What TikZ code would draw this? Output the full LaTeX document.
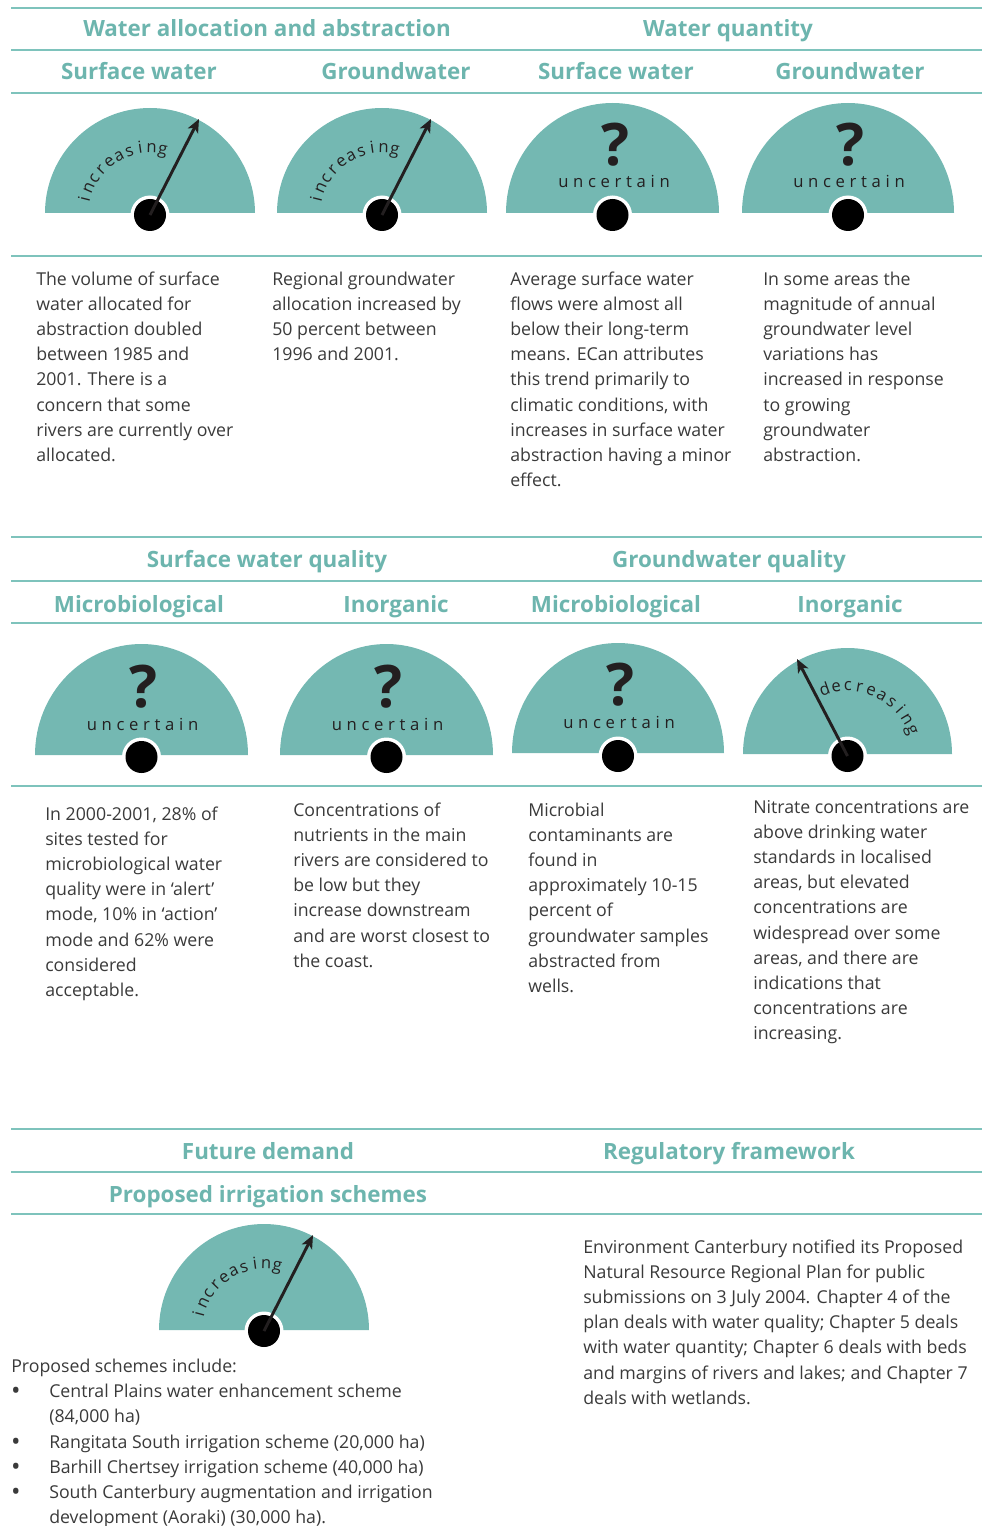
\documentclass[tikz,border=0pt]{standalone}
\usepackage{fontspec}
\setmainfont{Open Sans}
\newfontfamily\dialfont{Open Sans}[LetterSpace=28]
\usetikzlibrary{arrows.meta,positioning}

\definecolor{ecteal}{HTML}{6DB5AE}
\definecolor{ecrule}{HTML}{7EC3BC}
\definecolor{ecdial}{HTML}{74B8B2}
\definecolor{ecgrey}{HTML}{3A3A3A}
\definecolor{ecink}{HTML}{231F20}

\tikzset{
  rule/.style={draw=ecrule, line width=1.1pt},
  head/.style={font=\bfseries\fontsize{16.8}{19}\selectfont, text=ecteal, anchor=base, inner sep=0pt},
  body/.style={font=\fontsize{13.3}{18.9}\selectfont, text=ecgrey, align=left, anchor=base west, inner sep=0pt},
  dot/.style={font=\fontsize{19}{19}\selectfont, text=ecgrey, anchor=base, inner sep=0pt},
  dial/.style={fill=ecdial},
  hub/.style={circle, fill=black, minimum size=24pt, inner sep=0pt},
  needle/.style={draw=ecink, line width=2.2pt, -{Stealth[length=10pt,width=8.5pt,inset=2.5pt]}},
  query/.style={font=\bfseries\fontsize{44}{44}\selectfont, text=ecink, anchor=base, inner sep=0pt},
  dialword/.style={font=\dialfont\fontsize{12.5}{12.5}\selectfont, text=ecink, anchor=base, inner sep=0pt},
  arcletter/.style={font=\fontsize{12.5}{12.5}\selectfont, text=ecink, anchor=base, inner sep=0pt}
}

% dial: name, centre x, base y, x radius, y radius, hub y
\newcommand\drawdial[6]{%
  \fill[dial] (#2-#4,#3) arc[start angle=180,end angle=0,x radius=#4,y radius=#5] -- cycle;
  \fill[white] (#2,#6) circle[radius=19.5];
  \node[hub] (#1) at (#2,#6) {};
}
% letters round a hub: hub, first angle, step, radius, letters
\newcommand\arcword[5]{%
  \foreach \ch [count=\k] in {#5} {
    \pgfmathsetmacro\ang{#2-(\k-1)*#3}
    \node[arcletter, rotate=\ang-90] (#1-l\k) at ([shift={(\ang:#4)}]#1) {\ch};
  }
}

\begin{document}
\begin{tikzpicture}[x=0.75pt,y=0.75pt]
\useasboundingbox (0,0) rectangle (982,-1526);

% water allocation / quantity
\foreach \y in {8,50,93,256} \draw[rule] (11,-\y) -- (982,-\y);
\node[head] (alloc) at (267,-37) {Water allocation and abstraction};
\node[head] (quant) at (728,-37) {Water quantity};
\node[head] (allocsw) at (139,-80) {Surface water};
\node[head] (allocgw) at (396,-80) {Groundwater};
\node[head] (quantsw) at (616,-80) {Surface water};
\node[head] (quantgw) at (850,-80) {Groundwater};

\drawdial{g1}{150}{-213}{105}{105}{-215}
\arcword{g1}{166}{9.67}{62}{i,n,c,r,e,a,s,i,n,g}
\coordinate (g1tip) at (199,-119);
\draw[needle] (g1.center) -- (g1tip);

\drawdial{g2}{382}{-213}{105}{105}{-215}
\arcword{g2}{166}{9.67}{62}{i,n,c,r,e,a,s,i,n,g}
\coordinate (g2tip) at (431,-119);
\draw[needle] (g2.center) -- (g2tip);

\drawdial{g3}{612.5}{-213}{106.5}{110}{-215}
\node[query] (g3q) at (615,-166) {?};
\node[dialword] (g3w) at (614,-188) {uncertain};

\drawdial{g4}{848}{-213}{106}{110}{-215}
\node[query] (g4q) at (850,-166) {?};
\node[dialword] (g4w) at (849,-188) {uncertain};

% text blocks sit on their last baseline
\node[body] (t1) at (36,-461.4) {The volume of surface\\water allocated for\\abstraction doubled\\between 1985 and\\2001. There is a\\concern that some\\rivers are currently over\\allocated.};
\node[body] (t2) at (272,-360.6) {Regional groundwater\\allocation increased by\\50 percent between\\1996 and 2001.};
\node[body] (t3) at (510,-486.6) {Average surface water\\flows were almost all\\below their long-term\\means. ECan attributes\\this trend primarily to\\climatic conditions, with\\increases in surface water\\abstraction having a minor\\effect.};
\node[body] (t4) at (763,-461.4) {In some areas the\\magnitude of annual\\groundwater level\\variations has\\increased in response\\to growing\\groundwater\\abstraction.};

% water quality
\foreach \y in {537,581,623,786} \draw[rule] (11,-\y) -- (982,-\y);
\node[head] (swq) at (267,-567) {Surface water quality};
\node[head] (gwq) at (729,-567) {Groundwater quality};
\node[head] (swmic) at (139,-612) {Microbiological};
\node[head] (swinorg) at (396,-612) {Inorganic};
\node[head] (gwmic) at (616,-612) {Microbiological};
\node[head] (gwinorg) at (850,-612) {Inorganic};

\drawdial{g5}{141.5}{-755}{106.5}{111}{-757}
\node[query] (g5q) at (143,-707) {?};
\node[dialword] (g5w) at (142.5,-730) {uncertain};

\drawdial{g6}{386.5}{-755}{106.5}{111}{-757}
\node[query] (g6q) at (388,-707) {?};
\node[dialword] (g6w) at (387.5,-730) {uncertain};

\drawdial{g7}{618}{-753}{106}{110}{-756}
\node[query] (g7q) at (620,-705) {?};
\node[dialword] (g7w) at (619,-728) {uncertain};

\drawdial{g8}{847.5}{-754}{104.5}{106}{-756}
\arcword{g8}{109}{9.67}{65}{d,e,c,r,e,a,s,i,n,g}
\coordinate (g8tip) at (797,-659);
\draw[needle] (g8.center) -- (g8tip);

\node[body] (t5) at (45,-996.4) {In 2000-2001, 28\% of\\sites tested for\\microbiological water\\quality were in ‘alert’\\mode, 10\% in ‘action’\\mode and 62\% were\\considered\\acceptable.};
\node[body] (t6) at (293,-967.2) {Concentrations of\\nutrients in the main\\rivers are considered to\\be low but they\\increase downstream\\and are worst closest to\\the coast.};
\node[body] (t7) at (528,-992.4) {Microbial\\contaminants are\\found in\\approximately 10-15\\percent of\\groundwater samples\\abstracted from\\wells.};
\node[body] (t8) at (753,-1039.8) {Nitrate concentrations are\\above drinking water\\standards in localised\\areas, but elevated\\concentrations are\\widespread over some\\areas, and there are\\indications that\\concentrations are\\increasing.};

% future demand / regulation
\foreach \y in {1129,1172,1214} \draw[rule] (11,-\y) -- (982,-\y);
\node[head] (future) at (268,-1159) {Future demand};
\node[head] (regul) at (729,-1159) {Regulatory framework};
\node[head] (irrig) at (268,-1202) {Proposed irrigation schemes};

\drawdial{g9}{264}{-1330}{105}{106}{-1331}
\arcword{g9}{165}{9.6}{62}{i,n,c,r,e,a,s,i,n,g}
\coordinate (g9tip) at (313,-1235);
\draw[needle] (g9.center) -- (g9tip);

\node[body] (lead) at (11,-1372) {Proposed schemes include:};
\node[dot] (b1) at (16,-1399) {•};
\node[dot] (b2) at (16,-1450) {•};
\node[dot] (b3) at (16,-1475) {•};
\node[dot] (b4) at (16,-1500) {•};
\node[body] (s1) at (49,-1422.2) {Central Plains water enhancement scheme\\(84,000 ha)};
\node[body] (s2) at (49,-1448) {Rangitata South irrigation scheme (20,000 ha)};
\node[body] (s3) at (49,-1473) {Barhill Chertsey irrigation scheme (40,000 ha)};
\node[body] (s4) at (49,-1523.2) {South Canterbury augmentation and irrigation\\development (Aoraki) (30,000 ha).};

\node[body] (plan) at (583,-1404.2) {Environment Canterbury notified its Proposed\\Natural Resource Regional Plan for public\\submissions on 3 July 2004. Chapter 4 of the\\plan deals with water quality; Chapter 5 deals\\with water quantity; Chapter 6 deals with beds\\and margins of rivers and lakes; and Chapter 7\\deals with wetlands.};
\end{tikzpicture}
\end{document}
